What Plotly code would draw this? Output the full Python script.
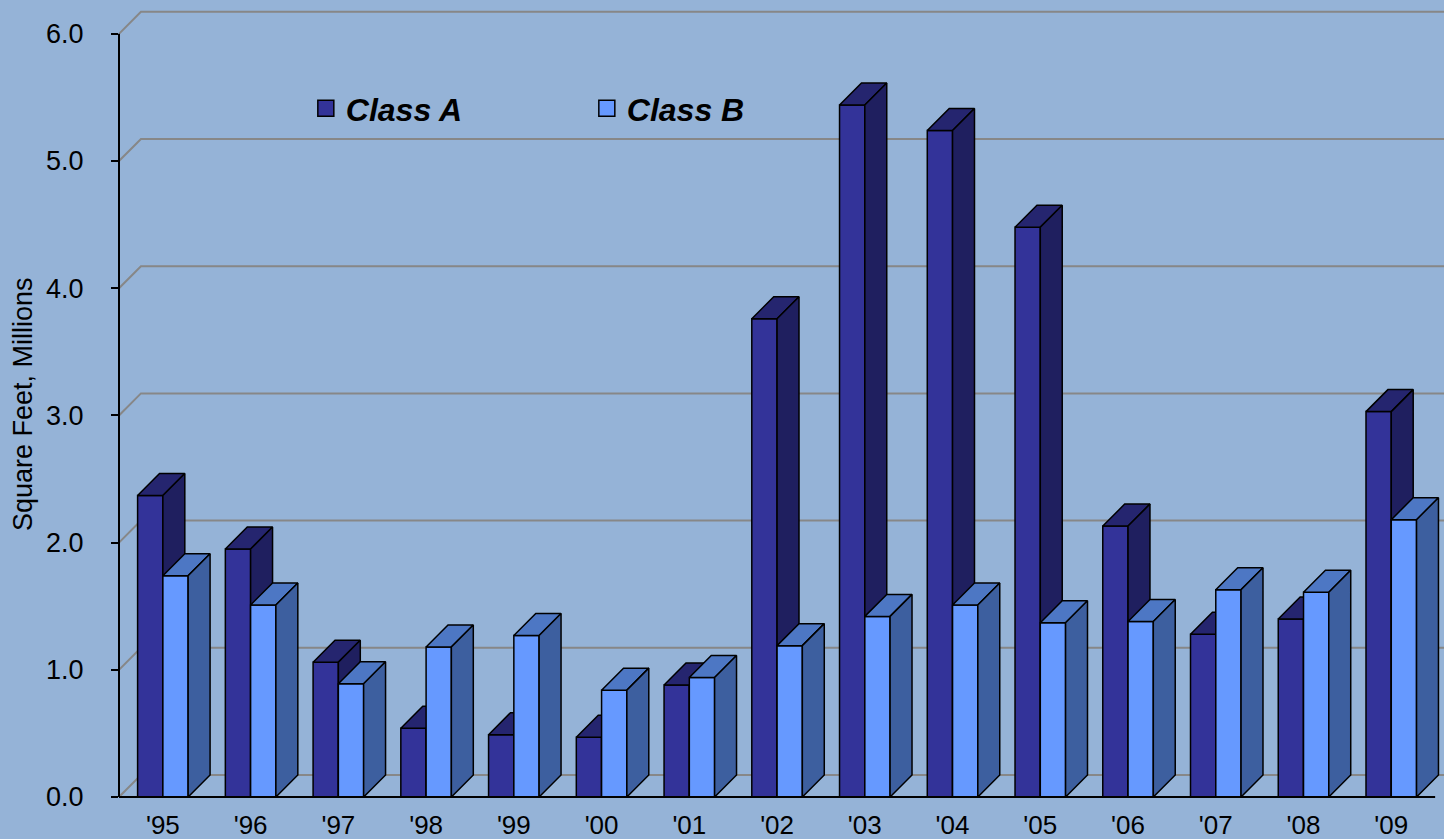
import plotly.graph_objects as go

# ---- data ----
years = ["'95", "'96", "'97", "'98", "'99", "'00", "'01", "'02",
         "'03", "'04", "'05", "'06", "'07", "'08", "'09"]
class_a = [2.37, 1.95, 1.06, 0.54, 0.49, 0.47, 0.88, 3.76, 5.44, 5.24, 4.48, 2.13, 1.28, 1.40, 3.03]
class_b = [1.74, 1.51, 0.89, 1.18, 1.27, 0.84, 0.94, 1.19, 1.42, 1.51, 1.37, 1.38, 1.63, 1.61, 2.18]
y_ticks = [0, 1, 2, 3, 4, 5, 6]
y_tick_labels = ["0.0", "1.0", "2.0", "3.0", "4.0", "5.0", "6.0"]

# ---- geometry / style ----
BAR_W = 0.288      # bar width in category units
DX = 0.25          # pseudo-3D depth (x, category units)
DY = 0.173         # pseudo-3D depth (y, value units)
X_MIN, X_MAX = -0.5, 14.601
Y_MIN, Y_MAX = 0, 6.266
BG = "#95B3D7"
GRID = "#878787"
FONT = "Liberation Sans, Arial, sans-serif"

A_FRONT, A_TOP, A_SIDE = "#333399", "#25256F", "#1F1F5F"
B_FRONT, B_TOP, B_SIDE = "#6699FF", "#4D77C4", "#3D5F9F"

x_idx = list(range(len(years)))


def faces(values, offset):
    tx, ty, sx, sy = [], [], [], []
    for i, v in zip(x_idx, values):
        left = i + offset
        right = left + BAR_W
        tx += [left, right, right + DX, left + DX, left, None]
        ty += [v, v, v + DY, v + DY, v, None]
        sx += [right, right, right + DX, right + DX, right, None]
        sy += [0, v, v + DY, DY, 0, None]
    return tx, ty, sx, sy


fig = go.Figure()


def add_series(values, offset, front, top, side, yaxis, name):
    fig.add_trace(go.Bar(
        x=x_idx, y=values, width=BAR_W, offset=offset,
        marker=dict(color=front, line=dict(color="black", width=1.5)),
        yaxis=yaxis, showlegend=False, hoverinfo="skip", name=name))
    tx, ty, sx, sy = faces(values, offset)
    fig.add_trace(go.Scatter(x=tx, y=ty, mode="lines", fill="toself", fillcolor=top,
                             line=dict(color="black", width=1.5), yaxis=yaxis,
                             showlegend=False, hoverinfo="skip"))
    fig.add_trace(go.Scatter(x=sx, y=sy, mode="lines", fill="toself", fillcolor=side,
                             line=dict(color="black", width=1.5), yaxis=yaxis,
                             showlegend=False, hoverinfo="skip"))
    # legend entry
    fig.add_trace(go.Scatter(x=[None], y=[None], mode="markers", name=name, yaxis=yaxis,
                             marker=dict(symbol="square", size=16, color=front,
                                         line=dict(color="black", width=1.5))))


add_series(class_a, -BAR_W, A_FRONT, A_TOP, A_SIDE, "y", "Class A")
add_series(class_b, 0, B_FRONT, B_TOP, B_SIDE, "y2", "Class B")

# back-wall gridlines
shapes = []
for v in y_ticks:
    shapes.append(dict(type="path", xref="x", yref="y", layer="below",
                       path=f"M {X_MIN},{v} L {X_MIN + DX},{v + DY} L {X_MAX},{v + DY}",
                       line=dict(color=GRID, width=2)))
# axis lines
shapes.append(dict(type="line", xref="paper", yref="y", x0=0, x1=0, y0=0, y1=max(y_ticks),
                   layer="above", line=dict(color="black", width=2)))
shapes.append(dict(type="line", xref="x", yref="paper", x0=X_MIN, x1=len(years) - 0.5, y0=0, y1=0,
                   layer="above", line=dict(color="black", width=2)))

fig.update_layout(
    width=1444, height=839, autosize=False,
    margin=dict(l=119, r=0, t=0, b=42, pad=0),
    paper_bgcolor=BG, plot_bgcolor=BG,
    font=dict(family=FONT, color="black"),
    barmode="overlay",
    shapes=shapes,
    xaxis=dict(range=[X_MIN, X_MAX], tickvals=x_idx, ticktext=years, showgrid=False,
               zeroline=False, showline=False, ticks="", tickfont=dict(size=26),
               ticklabelstandoff=10, automargin=False, fixedrange=True),
    yaxis=dict(range=[Y_MIN, Y_MAX], tickvals=y_ticks, ticktext=y_tick_labels, showgrid=False,
               zeroline=False, showline=False, ticks="outside", ticklen=7, tickwidth=2,
               tickcolor="black", tickfont=dict(size=27), ticklabelstandoff=22,
               automargin=False, fixedrange=True),
    yaxis2=dict(range=[Y_MIN, Y_MAX], overlaying="y", visible=False, automargin=False,
                fixedrange=True),
    legend=dict(orientation="h", x=0.141, xanchor="left", y=0.864, yanchor="middle",
                bgcolor="rgba(0,0,0,0)", entrywidth=236, entrywidthmode="pixels",
                font=dict(family=FONT, size=32, weight="bold", style="italic", color="black"),
                itemclick=False, itemdoubleclick=False),
    annotations=[dict(text="Square Feet, Millions", textangle=-90, xref="paper", yref="paper",
                      x=-0.0725, y=0.493, xanchor="center", yanchor="middle", showarrow=False,
                      font=dict(size=27, family=FONT, color="black"))],
)

fig.write_html("out.html")
